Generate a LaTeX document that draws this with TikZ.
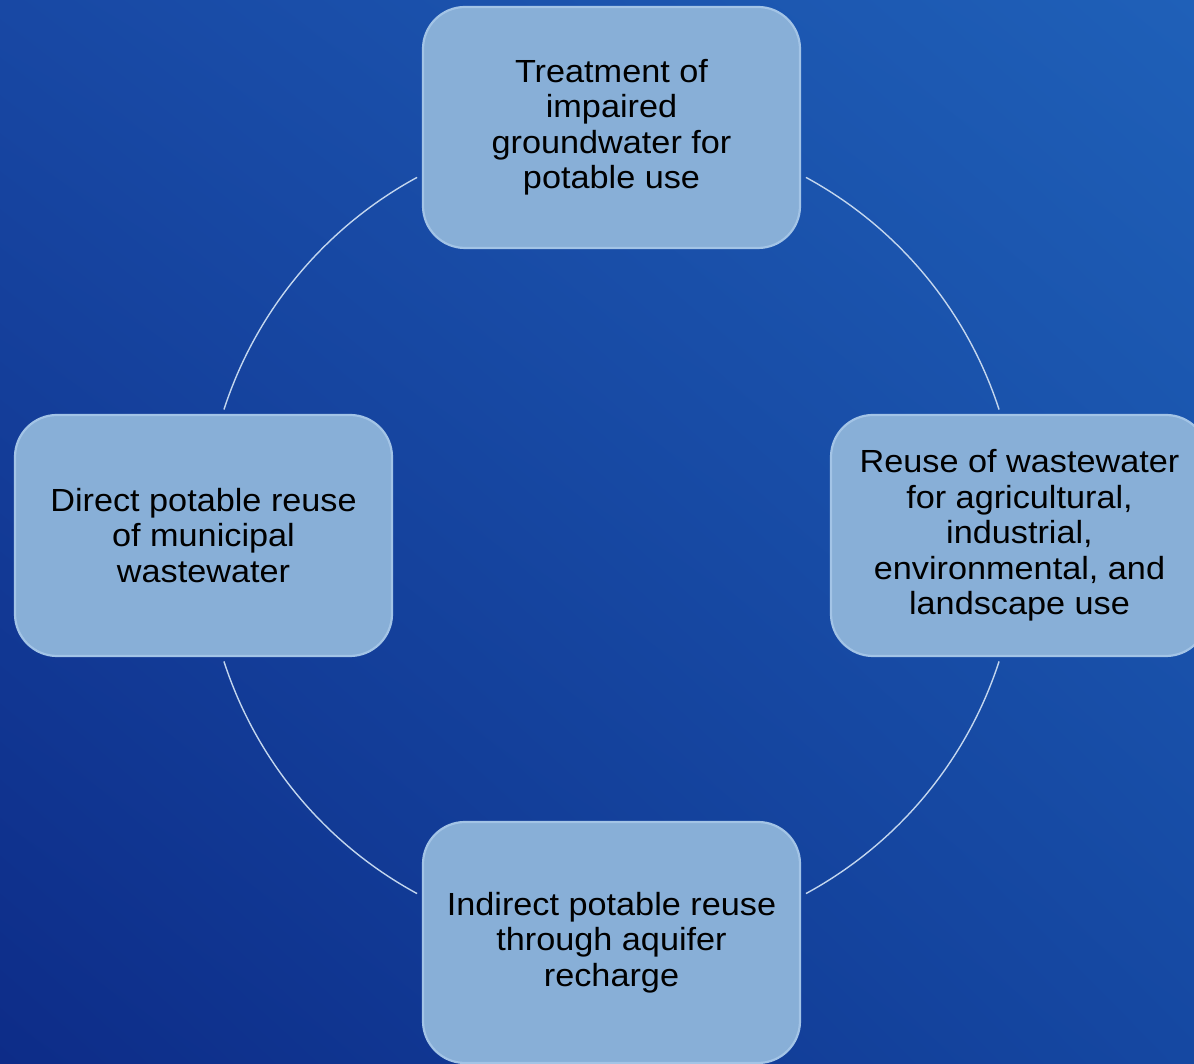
\documentclass[tikz,border=0pt]{standalone}
\usepackage{fontspec}
\setmainfont{Liberation Sans}[FakeStretch=1.07]
\usetikzlibrary{shadings}
\definecolor{bgUL}{HTML}{1848A4}
\definecolor{bgUR}{HTML}{1F60B8}
\definecolor{bgLL}{HTML}{0D2C88}
\definecolor{bgLR}{HTML}{1548A2}
\definecolor{boxbase}{HTML}{88AFD7}
\definecolor{boxdark}{HTML}{5F84B2}
\definecolor{boxlight}{HTML}{A2C6EA}
\definecolor{boxrim}{HTML}{A3C4E6}
\definecolor{ringcol}{HTML}{C3D6EE}
\pgfdeclareverticalshading{boxshade}{100bp}{color(0bp)=(boxrim); color(1.5bp)=(boxdark); color(9bp)=(boxbase); color(92bp)=(boxbase); color(100bp)=(boxlight)}
\tikzset{
  stagebox/.style={rounded corners=42pt, minimum width=377pt, minimum height=241pt,
    shading=boxshade, draw=boxrim, line width=2.2pt, align=center, text=black,
    font=\fontsize{32}{35.5}\selectfont, inner sep=0pt},
  ring/.style={draw=ringcol, line width=1.4pt}
}
\begin{document}
\begin{tikzpicture}[x=1pt,y=1pt]
\useasboundingbox (0,0) rectangle (1194,1064);
\clip (0,0) rectangle (1194,1064);
\shade[upper left=bgUL, upper right=bgUR, lower left=bgLL, lower right=bgLR] (0,0) rectangle (1194,1064);
\coordinate (O) at (611.5,528.5);
\def\R{407.5}
\draw[ring] ([shift={(118.5:\R)}]O) arc[start angle=118.5, end angle=162, radius=\R];
\draw[ring] ([shift={(18:\R)}]O) arc[start angle=18, end angle=61.5, radius=\R];
\draw[ring] ([shift={(198:\R)}]O) arc[start angle=198, end angle=241.5, radius=\R];
\draw[ring] ([shift={(298.5:\R)}]O) arc[start angle=298.5, end angle=342, radius=\R];
\node[stagebox] (top) at (611.5,936.5) {Treatment of\\impaired\\groundwater for\\potable use};
\node[stagebox] (right) at (1019.5,528.5) {Reuse of wastewater\\for agricultural,\\industrial,\\environmental, and\\landscape use};
\node[stagebox] (bottom) at (611.5,121.5) {Indirect potable reuse\\through aquifer\\recharge};
\node[stagebox] (left) at (203.5,528.5) {Direct potable reuse\\of municipal\\wastewater};
\end{tikzpicture}
\end{document}
